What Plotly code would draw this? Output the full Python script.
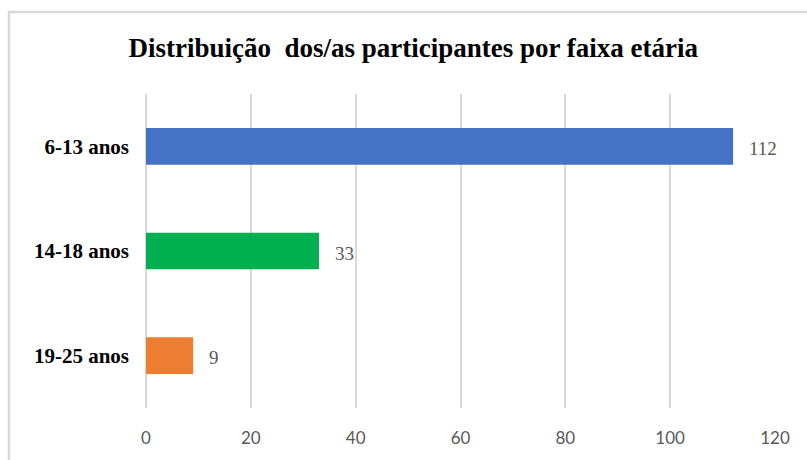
import plotly.graph_objects as go

# Age-group distribution of participants
faixas = ["6-13 anos", "14-18 anos", "19-25 anos"]
participantes = [112, 33, 9]
cores = ["#4472C4", "#00B050", "#ED7D31"]
x_ticks = [0, 20, 40, 60, 80, 100, 120]

W, H = 807, 460
M_L, M_R, M_T, M_B = 146, 32, 94, 52

fig = go.Figure(
    go.Bar(
        x=participantes,
        y=faixas,
        orientation="h",
        marker=dict(color=cores, line=dict(width=0)),
        width=0.35,
        hoverinfo="skip",
    )
)

# value labels to the right of each bar
for f, v in zip(faixas, participantes):
    fig.add_annotation(
        x=v, y=f, text=str(v), showarrow=False,
        xanchor="left", yanchor="middle", xshift=14, yshift=-2,
        font=dict(family="Liberation Serif", size=19, color="#595959"),
    )

# light outer frame of the chart area
pw = W - M_L - M_R
ph = H - M_T - M_B
fig.add_shape(
    type="rect", xref="paper", yref="paper", layer="below",
    x0=(9 - M_L) / pw, x1=(W + 20 - M_L) / pw,
    y0=-(H + 20 - (H - M_B)) / ph, y1=(H - M_B - 12) / ph,
    line=dict(color="#D9D9D9", width=2.5), fillcolor="rgba(0,0,0,0)",
)

fig.update_layout(
    width=W, height=H,
    margin=dict(l=M_L, r=M_R, t=M_T, b=M_B),
    paper_bgcolor="white", plot_bgcolor="white",
    showlegend=False,
    bargap=0.65,
    title=dict(
        text="<b>Distribuição  dos/as participantes por faixa etária</b>",
        x=0.512, xanchor="center", y=1 - 48 / H, yanchor="middle",
        font=dict(family="Liberation Serif", size=27, color="#000000"),
    ),
    xaxis=dict(
        range=[0, 120], tickvals=x_ticks, ticktext=[str(t) for t in x_ticks],
        showgrid=True, gridcolor="#D9D9D9", gridwidth=2,
        zeroline=True, zerolinecolor="#D9D9D9", zerolinewidth=2,
        showline=False, ticks="", ticklabelstandoff=18,
        tickfont=dict(family="Lato", size=17, color="#595959"),
        fixedrange=True,
    ),
    yaxis=dict(
        autorange="reversed", showgrid=False, zeroline=False, showline=False,
        ticks="", ticklabelstandoff=16,
        tickfont=dict(family="Liberation Serif", size=21, color="#000000", weight="bold"),
        fixedrange=True,
    ),
)

fig.write_html("out.html")
